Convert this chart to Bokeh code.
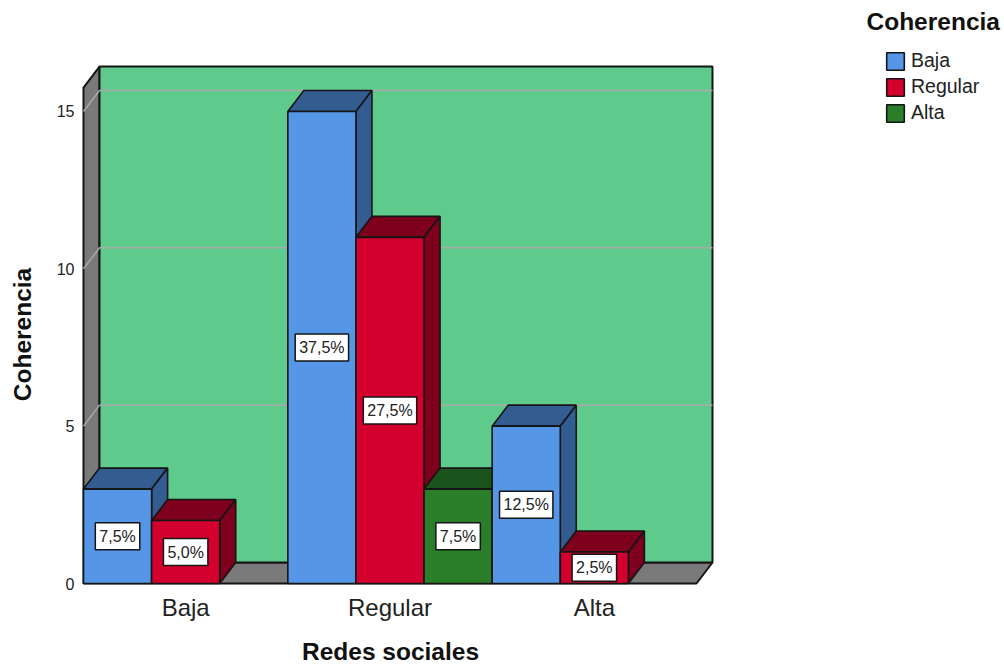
from bokeh.plotting import figure
from bokeh.models import FixedTicker, Label, Legend, LegendItem
from bokeh.embed import file_html
from bokeh.resources import INLINE

categories = ["Baja", "Regular", "Alta"]
series_names = ["Baja", "Regular", "Alta"]
baja = [3, 15, 5]
regular = [2, 11, 1]
alta = [0, 3, 0]
pct_baja = ["7,5%", "37,5%", "12,5%"]
pct_regular = ["5,0%", "27,5%", "2,5%"]
pct_alta = ["", "7,5%", ""]
y_ticks = [0, 5, 10, 15]
AXIS_TOP = 15.76

FRONT = ["#5596E6", "#D3002E", "#2A7E2A"]
SHADE = ["#335C91", "#7E001C", "#1B531C"]
WALL = "#5ECA8C"
SIDE = "#7A7A7A"
GRID = "#A9A9A9"
EDGE = "#151515"
FONT = "Liberation Sans"

PX_X = 204.33   # pixels per category
PX_Y = 31.47    # pixels per value unit
DX = 16 / PX_X
DY = 21 / PX_Y
W = 1 / 3
L, R = -0.5, 2.5

FW, FH = 1004, 666
LEFT, BASE = 83, 583   # page position of the front plot corner


def xp(px):
    return L + (px - LEFT) / PX_X


def yp(py):
    return (BASE - py) / PX_Y


p = figure(width=FW, height=FH, output_backend="svg", toolbar_location=None,
           x_range=(xp(0), xp(FW)), y_range=(yp(FH), yp(0)),
           min_border_left=0, min_border_right=0, min_border_top=0, min_border_bottom=0)
p.outline_line_color = None
p.xgrid.visible = False
p.ygrid.visible = False

# walls
p.patch([L, L + DX, L + DX, L], [0, DY, AXIS_TOP + DY, AXIS_TOP], fill_color=SIDE, line_color=EDGE, line_width=2)
p.patch([L, L + DX, R + DX, R], [0, DY, DY, 0], fill_color=SIDE, line_color=EDGE, line_width=2)
p.quad(left=L + DX, right=R + DX, bottom=DY, top=AXIS_TOP + DY, fill_color=WALL, line_color=EDGE, line_width=2)
for t in y_ticks[1:]:
    p.line([L, L + DX, R + DX], [t, t + DY, t + DY], line_color=GRID, line_width=1.5)

# bars, painted left to right
series = [baja, regular, alta]
pcts = [pct_baja, pct_regular, pct_alta]
legend_r = [None, None, None]
for c in range(len(categories)):
    for s in range(len(series)):
        v = series[s][c]
        if v == 0:
            continue
        x0 = c - 0.5 + s * W
        x1 = x0 + W
        p.patch([x0, x1, x1 + DX, x0 + DX], [v, v, v + DY, v + DY], fill_color=SHADE[s], line_color=EDGE, line_width=1.6)
        p.patch([x1, x1 + DX, x1 + DX, x1], [0, DY, v + DY, v], fill_color=SHADE[s], line_color=EDGE, line_width=1.6)
        r = p.quad(left=x0, right=x1, bottom=0, top=v, fill_color=FRONT[s], line_color=EDGE, line_width=1.6)
        if legend_r[s] is None:
            legend_r[s] = r

# percent labels on top of everything
for c in range(len(categories)):
    for s in range(len(series)):
        v = series[s][c]
        if v == 0:
            continue
        xm = c - 0.5 + (s + 0.5) * W
        p.text(x=[xm], y=[v / 2], text=[pcts[s][c]], text_font={"value": FONT}, text_font_size="16px",
               text_color="#222222", text_align="center", text_baseline="middle",
               background_fill_color="white", border_line_color=EDGE, border_line_width=1.5,
               padding=(4, 5))

# axes, fixed at the front plot corner
p.yaxis.fixed_location = L
p.xaxis.fixed_location = 0
p.yaxis.ticker = FixedTicker(ticks=y_ticks)
p.xaxis.ticker = FixedTicker(ticks=list(range(len(categories))))
p.xaxis.major_label_overrides = {i: n for i, n in enumerate(categories)}
for ax in (p.xaxis[0], p.yaxis[0]):
    ax.axis_line_color = None
    ax.major_tick_line_color = None
    ax.minor_tick_line_color = None
    ax.major_tick_out = 0
    ax.major_tick_in = 0
    ax.major_label_text_font = FONT
    ax.major_label_text_color = "#222222"
p.yaxis[0].major_label_text_font_size = "16px"
p.yaxis[0].major_label_standoff = 9
p.xaxis[0].major_label_text_font_size = "24px"
p.xaxis[0].major_label_standoff = 10

# titles
title_style = dict(text_font=FONT, text_font_style="bold", text_font_size="24.5px", text_color="#111111",
                   text_baseline="middle")
p.add_layout(Label(x=xp(390), y=yp(651), text="Redes sociales", text_align="center", **title_style))
p.add_layout(Label(x=xp(22), y=yp(334), text="Coherencia", text_align="center", angle=90, angle_units="deg", **title_style))
p.add_layout(Label(x=xp(866), y=yp(21), text="Coherencia", text_align="left", **title_style))

legend = Legend(items=[LegendItem(label=n, renderers=[r]) for n, r in zip(series_names, legend_r)],
                location=(884, FH - 124), orientation="vertical", glyph_width=22, glyph_height=22,
                label_height=22, spacing=3, padding=0, margin=0, label_standoff=5,
                background_fill_alpha=0, border_line_color=None,
                label_text_font=FONT, label_text_font_size="19.5px", label_text_color="#222222")
p.add_layout(legend)

open("out.html", "w").write(file_html(p, INLINE))
